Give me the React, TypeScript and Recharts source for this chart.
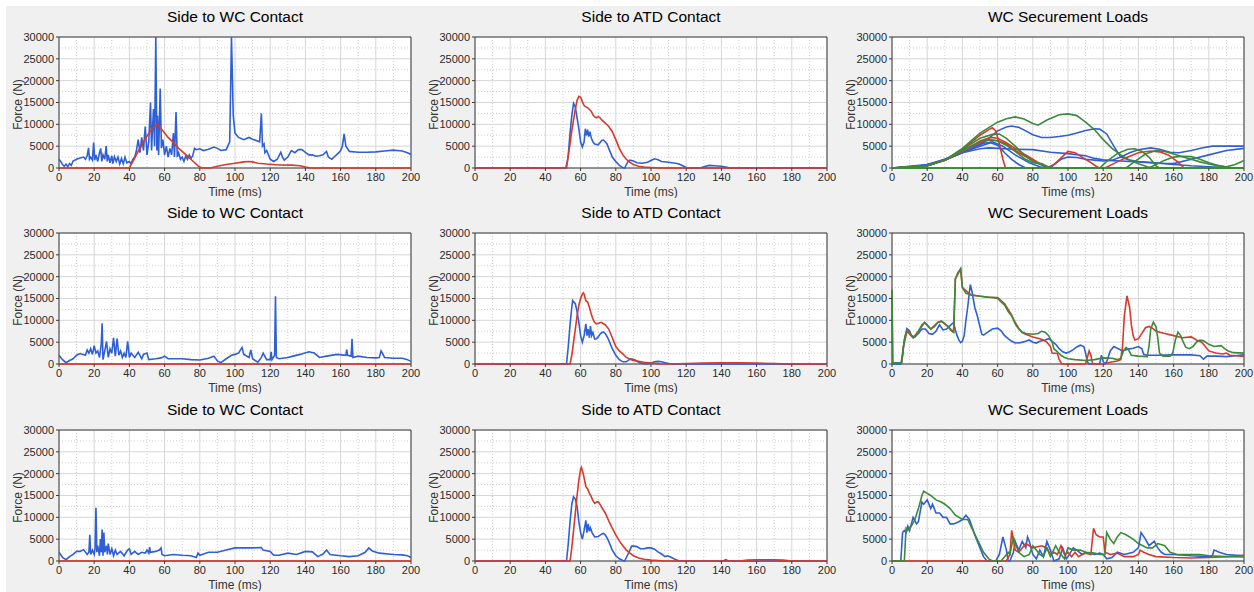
import React from 'react';
import { LineChart, Line, XAxis, YAxis, CartesianGrid } from 'recharts';

type P = [number, number][];

// ---------- Tick values ----------
const xTicks = [0, 20, 40, 60, 80, 100, 120, 140, 160, 180, 200];
const yTicks = [0, 5000, 10000, 15000, 20000, 25000, 30000];
const xMinor = [10, 30, 50, 70, 90, 110, 130, 150, 170, 190];
const yMinor = [2500, 7500, 12500, 17500, 22500, 27500];
const xEdges = [0, 200];
const yEdges = [0, 30000];

const titles = ['Side to WC Contact', 'Side to ATD Contact', 'WC Securement Loads'];

// ---------- Row 1 ----------
const r1WcBlue: P = [[0,2000],[1,1500],[2,800],[3,400],[4,900],[5,300],[6,1000],[7,600],[8,1600],[10,2000],[12,2300],[14,2500],[15,2000],[16,2800],[16.8,4600],[17.3,2000],[18,2500],[19,1800],[19.7,5800],[20.3,1800],[21,3000],[22,1500],[23,3500],[23.7,4500],[24.3,1500],[25,3000],[26,2000],[26.8,5000],[27.4,1500],[28,3000],[29,1200],[30,2800],[30.6,1000],[31.5,2600],[32.5,1500],[33.5,2500],[34.5,900],[35.5,2200],[36.5,1000],[37.5,2500],[38.5,1200],[40,1500],[41,1000],[42,2000],[43,2500],[44,4000],[45,6500],[46,3500],[47,7000],[48,4000],[49,9500],[50,3000],[51,6000],[52,15000],[52.6,4000],[53,8000],[53.7,13500],[54.3,5000],[55,30000],[55.6,4000],[56,12000],[56.6,3000],[57.5,18200],[58.2,4500],[59,6500],[60,3000],[61,5000],[62,2500],[63,4500],[64,3000],[65,8000],[65.6,2500],[66.5,12800],[67.2,2500],[68,3500],[69,2000],[70,2500],[71,1500],[72,2800],[73,2000],[74,3000],[75,2200],[76,2800],[77,4500],[78,4200],[80,4400],[82,4000],[85,4300],[88,4800],[90,4500],[92,4000],[95,4200],[97,6000],[98,30000],[99,12000],[100,8000],[102,7000],[105,6500],[108,7000],[110,6600],[112,6300],[114,6000],[115,12500],[115.6,5000],[116.5,5500],[117,3500],[118,4000],[119,3000],[120,2000],[122,1500],[124,2000],[126,3600],[127,2500],[128,1800],[130,2500],[132,4000],[134,3500],[136,4200],[138,4200],[140,3600],[142,3000],[144,3000],[146,2700],[148,2800],[150,3000],[152,3800],[153,2500],[155,2000],[157,2800],[159,3500],[160,4000],[161,5000],[162,7800],[163,5000],[165,3800],[170,3600],[175,3600],[180,3700],[185,3900],[190,4100],[195,3900],[198,3500],[200,3100]];
const r1WcRed: P = [[0,0],[40,0],[42,1500],[45,3800],[48,6000],[50,7300],[52,8500],[54,9500],[56,10000],[57,9500],[58,9000],[60,8000],[62,7000],[65,5800],[68,4500],[70,3800],[73,2700],[76,1600],[79,500],[81,0],[86,0],[90,400],[95,800],[100,1100],[105,1400],[108,1500],[110,1400],[113,1100],[118,900],[125,700],[132,650],[137,500],[140,200],[143,0],[200,0]];

const r1AtdBlue: P = [[0,0],[52,0],[53,3000],[54,8000],[55,12000],[56,14800],[57,14000],[58,11500],[59,9000],[60,6000],[61,4800],[62,6000],[62.7,9000],[63.3,7500],[64,8800],[64.6,7200],[65.3,8300],[66,7000],[67,6000],[68,5500],[70,5300],[71,5800],[72,6300],[73,6400],[74,6000],[75,5500],[76,4500],[77,3500],[78,2500],[80,1500],[82,600],[84,100],[85,0],[86,800],[87,1500],[88,1800],[90,1600],[92,1200],[95,1100],[98,1300],[100,1700],[102,2100],[104,1900],[106,1500],[110,1300],[114,1100],[116,900],[118,500],[120,100],[122,0],[128,0],[130,300],[133,600],[136,500],[140,400],[144,100],[146,0],[200,0]];
const r1AtdRed: P = [[0,0],[51.5,0],[52.5,1500],[54,5500],[55,8500],[56,11000],[57,13500],[58,15500],[59,16400],[60,16200],[61,15200],[62,14300],[63,14000],[64,13800],[65,13400],[66,13000],[67,12200],[68,11700],[69,11500],[70,11800],[71,11500],[72,11000],[74,10300],[76,9500],[78,8300],[80,6500],[82,4500],[84,3000],[86,2000],[88,1300],[90,800],[93,400],[96,200],[100,100],[105,0],[200,0]];

const r1SecBlue1: P = [[0,0],[10,100],[15,400],[20,800],[25,1300],[30,2000],[35,2800],[40,3600],[45,4300],[50,5200],[55,6800],[60,8500],[65,9400],[68,9600],[72,9300],[76,8500],[80,7600],[85,7000],[90,7000],[95,7200],[100,7500],[105,8000],[110,8600],[115,9000],[118,8900],[122,7800],[126,5000],[130,2500],[135,1800],[140,1500],[150,1200],[160,800],[170,500],[180,300],[190,100],[200,0]];
const r1SecBlue2: P = [[0,0],[15,300],[20,700],[30,1800],[40,3600],[50,5000],[56,5800],[60,5200],[64,3500],[68,2000],[72,800],[76,0],[200,0]];
const r1SecBlue3: P = [[0,0],[20,800],[30,2000],[40,3500],[50,4400],[55,4600],[60,4500],[70,4300],[80,4200],[90,3600],[100,3300],[110,2800],[115,2200],[120,1900],[125,1700],[130,1600],[140,1400],[150,1100],[160,1000],[170,2000],[180,3000],[190,4000],[200,4500]];
const r1SecBlue4: P = [[0,0],[20,700],[30,1800],[40,3500],[50,5500],[57,6000],[63,5000],[70,3000],[78,1200],[84,300],[88,0],[92,800],[96,2000],[100,2500],[105,2400],[110,2000],[115,1800],[120,1600],[125,1800],[130,2500],[135,3500],[140,4200],[147,4600],[152,4300],[158,3600],[163,3500],[170,4000],[176,4600],[182,5000],[190,5000],[200,5000]];
const r1SecRed1: P = [[0,0],[15,200],[20,500],[30,1800],[40,4200],[50,7500],[55,8800],[57,9200],[59,8500],[61,5500],[63,2000],[64.5,0],[200,0]];
const r1SecRed2: P = [[0,0],[20,500],[30,1800],[40,3800],[50,6200],[56,7000],[60,6800],[65,5800],[70,4500],[75,3200],[80,2000],[84,1000],[88,0],[90,0],[94,1500],[100,3800],[104,3500],[108,2500],[112,1500],[116,400],[118,0],[121,0],[126,1000],[132,2200],[140,3500],[147,3900],[152,3700],[157,3000],[162,1500],[166,0],[200,0]];
const r1SecRed3: P = [[0,0],[20,500],[30,1800],[40,3800],[50,5800],[55,6400],[60,6300],[65,5500],[70,4000],[75,2800],[80,1800],[85,800],[89,0],[200,0]];
const r1SecGreen1: P = [[0,0],[15,200],[20,500],[30,1800],[40,4500],[50,8000],[60,10500],[65,11300],[70,11700],[75,11200],[80,10200],[83,9800],[88,11000],[95,12200],[100,12400],[105,12000],[110,10500],[115,8800],[120,6500],[125,4500],[130,3000],[135,1800],[140,1000],[145,300],[148,0],[200,0]];
const r1SecGreen2: P = [[0,0],[20,500],[30,1800],[40,4200],[50,6800],[57,7700],[61,7800],[65,6800],[70,5000],[75,3000],[80,1500],[85,700],[90,0],[118,0],[122,1500],[128,3300],[134,4300],[138,4400],[142,3800],[146,2500],[150,500],[152,0],[200,0]];
const r1SecGreen3: P = [[0,0],[20,500],[30,1800],[40,4000],[50,6000],[55,6500],[60,6200],[65,5200],[70,3800],[75,2200],[80,1200],[85,1000],[88,400],[90,0],[200,0]];
const r1SecGreen4: P = [[0,0],[133,0],[138,1500],[144,3200],[150,4000],[155,3800],[160,3200],[165,2600],[170,2000],[175,1400],[180,900],[185,500],[190,300],[195,800],[200,1700]];
const r1SecGreen5: P = [[0,0],[146,0],[150,800],[155,1800],[160,2500],[165,2700],[170,2600],[175,2000],[180,1200],[185,600],[190,200],[195,0],[200,0]];

// ---------- Row 2 ----------
const r2WcBlue: P = [[0,2000],[2,1000],[4,300],[6,800],[8,1200],[10,2000],[12,2400],[15,2000],[16,3200],[17,2500],[18,3500],[19,2200],[20,4200],[21,2500],[22,3000],[23,1500],[24,4500],[24.5,9300],[25,1000],[26,3000],[27,5200],[28,1500],[29,3500],[30,2500],[31,6000],[32,1800],[33,5800],[34,2000],[35,3000],[36,1500],[37,2500],[38,1500],[39,5200],[40,1500],[41,2500],[43,1500],[45,2700],[47,1200],[48,2200],[50,2500],[51,1000],[55,1200],[58,1400],[60,1800],[62,1200],[70,1200],[75,1000],[80,900],[85,1300],[88,1800],[90,700],[92,300],[95,1200],[98,2000],[100,2200],[102,2500],[104,3800],[105,2200],[108,1500],[109,3200],[110,1200],[113,400],[115,1500],[116,2500],[118,1000],[120,1000],[120.5,2800],[121,1000],[122.5,2000],[123,15500],[123.5,1500],[125,1200],[130,1500],[133,1800],[137,2200],[142,2800],[145,2500],[148,1500],[152,1800],[158,2200],[163,2000],[163.5,3300],[164,2000],[166,1800],[166.5,5800],[167,1500],[170,1800],[175,1500],[180,1400],[182,1500],[183,3000],[185,1500],[190,1300],[195,1300],[198,1000],[200,600]];
const r2WcRed: P = [[0,0],[50,0],[100,0],[150,0],[200,0]];

const r2AtdBlue: P = [[0,0],[52,0],[53,4000],[54,9000],[55,13000],[55.5,14500],[57,13800],[58,12000],[59,9500],[60,6500],[61,5000],[62,6500],[63,9200],[63.6,6500],[64.3,8000],[65,6000],[65.6,8700],[66.3,6500],[67,7200],[68,5700],[69,5800],[70,6200],[71,6800],[72,7200],[73,7300],[74,7000],[75,6300],[76,5500],[77,4500],[78,3500],[80,2000],[82,1000],[84,500],[86,500],[88,1100],[89,1200],[91,900],[93,400],[95,100],[98,0],[100,200],[102,500],[104,600],[106,500],[108,300],[110,100],[112,0],[200,0]];
const r2AtdRed: P = [[0,0],[54,0],[55,2000],[56,5000],[57,8000],[58,11000],[59,13500],[60,15000],[61,16000],[61.5,16300],[62,16000],[63,14500],[64,14200],[65,13000],[66,11500],[67,10300],[68,9500],[69,9200],[70,9300],[71,9500],[72,9500],[73,9200],[74,9000],[75,8500],[76,8000],[77,7000],[78,6000],[79,5000],[80,4000],[82,3000],[84,2300],[86,1500],[88,1100],[90,800],[93,600],[96,400],[100,200],[105,50],[110,0],[120,100],[130,200],[140,250],[150,250],[160,200],[170,100],[180,0],[200,0]];

const r2SecBlue: P = [[0,0],[5,0],[6,2000],[7,5500],[8.5,8100],[10,7500],[11,6500],[13,6200],[15,7000],[17,8000],[19,8000],[21,7000],[23,6800],[25,7500],[27,9000],[29,7800],[31,8000],[33,8800],[35,9500],[36,7800],[37,6500],[38,5500],[39,4900],[40,5200],[41,6500],[42,10000],[43,13000],[44,16500],[44.5,18200],[45.5,16500],[47,13000],[48.5,11000],[50,8500],[51,6800],[52,6600],[54,7200],[57,8000],[60,8200],[62,7600],[64,6500],[66,5800],[68,5200],[70,4800],[73,4900],[76,5200],[78,5500],[80,5000],[82,4800],[84,5200],[87,5500],[89,5800],[91,5200],[93,4500],[95,3500],[97,2800],[99,2500],[101,2800],[103,3300],[105,3900],[107,4300],[109,4000],[110,2500],[111,500],[112,0],[118,0],[119,2000],[120,600],[121,0],[122,500],[124,3000],[126,4000],[128,3600],[131,3000],[134,3400],[137,3600],[140,4000],[142,3500],[143,2200],[145,2000],[150,2000],[160,2100],[170,2100],[175,1900],[177,1100],[179,1800],[185,1800],[190,1700],[195,1900],[200,2100]];
const r2SecRed: P = [[0,17000],[0.4,300],[5.5,300],[6.5,4000],[8.5,7500],[12,6000],[15,7500],[18.5,9500],[22,8000],[26,9500],[28,9800],[32,8500],[35,7300],[36,19500],[39,21800],[40,17500],[45,15800],[55,15300],[60,15200],[62,14500],[64,13800],[66,12500],[68,11200],[70,9500],[72,8200],[74,7200],[76,6800],[80,6200],[84,5800],[86,5500],[88,5000],[90,4000],[91,2500],[94,2400],[95,1000],[96.5,0],[110,0],[111,1500],[112,3000],[113,2000],[114,0],[120,0],[124,400],[128,700],[130,1000],[131,4000],[132,11000],[133.5,15600],[135,13000],[136,9000],[137,6500],[138,5500],[140,5800],[142,7000],[144,8300],[146,8600],[148,8200],[150,7500],[155,7000],[160,6500],[165,6000],[170,6200],[173,5500],[176,5000],[178,4000],[180,3000],[184,2500],[188,2300],[190,2500],[192,2000],[196,1900],[200,1700]];
const r2SecGreen: P = [[0,17000],[0.4,300],[5.5,300],[6.5,4000],[7.5,6500],[8.5,7500],[10,7500],[11,6500],[12,6000],[13,6200],[15,7500],[17,9000],[18.5,9500],[20,9000],[22,8000],[24,8500],[26,9500],[28,9800],[30,9300],[32,8500],[34,7500],[35,7300],[36,19500],[37.5,21000],[39,21800],[40,17500],[42,16200],[45,15800],[50,15500],[55,15300],[58,15200],[60,15000],[62,14200],[64,13500],[66,12000],[68,11000],[70,9200],[72,8000],[74,7300],[76,7000],[80,6800],[83,7000],[85,7500],[87,7300],[89,6500],[91,5000],[92,3500],[94,2800],[96,2000],[98,1500],[100,1200],[104,1000],[110,800],[115,1000],[120,1400],[125,1300],[128,1000],[130,1300],[131.5,3000],[133,3800],[134.5,3200],[136,2000],[140,1800],[145,1700],[146,4000],[147,8000],[148.5,9600],[150,8500],[151,6000],[152,2500],[154,1800],[158,1800],[159.5,2500],[161,5500],[162.5,7300],[164,6500],[165.5,5000],[167,3800],[169,3500],[171,4000],[173,5000],[175,5500],[177,5300],[180,4500],[183,4000],[187,4200],[189,3500],[191,3000],[194,2600],[200,2500]];

// ---------- Row 3 ----------
const r3WcBlue: P = [[0,2000],[2,800],[4,300],[6,1000],[8,1500],[10,2200],[12,2200],[14,2600],[16,1500],[17,2000],[17.5,6000],[18,1500],[19,2500],[20,1500],[20.5,3000],[21,12200],[21.5,2000],[22,3500],[23,1200],[23.5,5000],[24,2000],[24.5,7200],[25,1200],[25.5,6500],[26,2000],[27,3500],[27.5,1500],[28,4000],[29,1500],[30,2800],[31,1200],[32,2500],[33,1500],[35,2200],[37,1200],[39,2500],[40,2800],[41,1500],[43,2200],[45,1500],[47,2000],[49,1800],[50,2500],[51,1800],[51.5,3200],[52,2000],[55,2200],[57,2500],[58,3000],[58.5,1500],[60,1200],[65,1500],[70,1300],[75,1200],[78,800],[79,1800],[80,1300],[85,2000],[90,2000],[95,2500],[100,3000],[105,3000],[110,3000],[115,3100],[116,2500],[120,2200],[122,1300],[125,1300],[130,1800],[135,1500],[140,2200],[144,2100],[147,1000],[150,1600],[152,2500],[154,1500],[160,1200],[165,1000],[170,1200],[174,2000],[176,3000],[178,2300],[182,1800],[190,1500],[195,1400],[198,1200],[200,800]];
const r3WcRed: P = [[0,0],[50,0],[100,0],[150,0],[200,0]];

const r3AtdBlue: P = [[0,0],[52,0],[53,4000],[54,9000],[55,13000],[56,14700],[57,14200],[58,12500],[59,9000],[60,6500],[61,5000],[62,7000],[63,9300],[63.6,6500],[64.3,8500],[65,6800],[65.6,7600],[66.5,6500],[68,5500],[70,5600],[72,6200],[73,6300],[74,6000],[75,5300],[76,4500],[77,3500],[78,2500],[80,1200],[82,500],[84,100],[85,0],[86,800],[87.5,2000],[89,3400],[90,3400],[92,3300],[94,2800],[96,2800],[98,3000],[100,3000],[102,2700],[104,2100],[106,1600],[108,1000],[109.5,1200],[111,900],[113,500],[115,200],[116,0],[141,0],[142.5,300],[144,0],[200,0]];
const r3AtdRed: P = [[0,0],[54,0],[55,3000],[56,7000],[57,11000],[58,15000],[59,18500],[60,21000],[60.5,21400],[61.5,20000],[62.5,18000],[63,17000],[64,16500],[65,15500],[66,14800],[67,13800],[68,13200],[69,13500],[70,13600],[71,13000],[72,12300],[74,11000],[76,9200],[78,7500],[80,6000],[82,4600],[84,3500],[86,2500],[88,1800],[90,1200],[93,700],[96,400],[100,200],[104,100],[108,0],[150,0],[155,200],[160,300],[170,300],[175,200],[180,0],[200,0]];

const r3SecBlue: P = [[0,0],[5,0],[6,6500],[7,7000],[8,6500],[9,8000],[10,7000],[12,10000],[14,8500],[15,9000],[17,13500],[18,13000],[20,14000],[22,12000],[23,13000],[25,11000],[27,11000],[29,10000],[31,10000],[33,8500],[35,8500],[38,9000],[40,9500],[42,10500],[44,9500],[47,6000],[50,3000],[52,1000],[54,0],[59,0],[61,1500],[63,5500],[64,4000],[65,2500],[66,0],[67,0],[69,2000],[70,4500],[72,2500],[74,4500],[76,3000],[77,5500],[78,4500],[80,1500],[82,500],[84,2500],[86,1000],[88,4500],[90,2500],[92,0],[95,500],[97,3000],[99,500],[100,1000],[103,3000],[105,2500],[108,1500],[110,2000],[115,1500],[118,1800],[120,1500],[122,500],[125,800],[128,2000],[132,1500],[137,2000],[140,3000],[141.5,6500],[144,5000],[146,3500],[149,4500],[151,3000],[153,2000],[155,1500],[160,1500],[170,1200],[180,1000],[182,1200],[183,2500],[186,2000],[190,1500],[200,1200]];
const r3SecRed: P = [[0,0],[65,0],[67,1500],[68,7000],[70,2500],[72,2000],[74,3000],[76,4000],[78,3500],[80,3000],[85,3500],[88,3000],[90,1500],[92,2000],[94,1500],[96,3500],[98,1500],[100,2000],[102,1000],[104,2000],[106,1000],[108,1500],[110,1800],[113,1500],[114.5,7500],[116,6000],[118,5500],[120,5500],[121,2000],[124,1500],[128,1800],[132,1000],[137,1000],[140,1500],[141,2500],[143,2000],[146,1500],[150,1000],[160,800],[170,700],[180,800],[190,1000],[200,1300]];
const r3SecGreen: P = [[0,0],[7,0],[8,7500],[9,7000],[11,8000],[13,9500],[15,12000],[17,15000],[18,16000],[20,15500],[22,15000],[25,14000],[28,13500],[30,13000],[33,12000],[36,10500],[40,9500],[43,9500],[46,7000],[49,4500],[52,2000],[55,500],[57,0],[62,0],[64,1000],[66,2000],[67,1500],[69,5500],[70,4000],[72,2000],[75,1000],[78,1500],[80,3500],[82,2500],[84,1500],[86,1000],[88,3000],[90,1000],[93,3500],[95,2000],[98,500],[100,3000],[103,2500],[107,2500],[110,2000],[115,1800],[118,1500],[121,1500],[122,6500],[124,5000],[126,4000],[128,5500],[130,6500],[133,6000],[137,5000],[140,4000],[145,3000],[148,3000],[151,4000],[155,3500],[158,2000],[162,1500],[170,1500],[175,1500],[180,1200],[190,1000],[200,900]];

// ---------- Styling ----------
const BLUE = '#2f5fd6';
const RED = '#d9382a';
const GREEN = '#3b8a3b';
const FONT = '"Liberation Sans", Arial, sans-serif';
const FRAME = '#3a3a3a';

const colLeft = [59, 475, 892];
const rowTop = [37, 233, 430];
const PW = 352;
const PH = 131;
const YW = 60;
const MT = 37;
const XH = 30;
const MR = 10;

type S = { d: P; c: string };
const toPts = (arr: P) => arr.map(([t, f]) => ({ t, f }));

const panels: S[][][] = [
  [
    [{ d: r1WcBlue, c: BLUE }, { d: r1WcRed, c: RED }],
    [{ d: r1AtdBlue, c: BLUE }, { d: r1AtdRed, c: RED }],
    [
      { d: r1SecBlue1, c: BLUE }, { d: r1SecBlue2, c: BLUE }, { d: r1SecBlue3, c: BLUE }, { d: r1SecBlue4, c: BLUE },
      { d: r1SecRed1, c: RED }, { d: r1SecRed2, c: RED }, { d: r1SecRed3, c: RED },
      { d: r1SecGreen1, c: GREEN }, { d: r1SecGreen2, c: GREEN }, { d: r1SecGreen3, c: GREEN }, { d: r1SecGreen4, c: GREEN }, { d: r1SecGreen5, c: GREEN },
    ],
  ],
  [
    [{ d: r2WcBlue, c: BLUE }, { d: r2WcRed, c: RED }],
    [{ d: r2AtdBlue, c: BLUE }, { d: r2AtdRed, c: RED }],
    [{ d: r2SecBlue, c: BLUE }, { d: r2SecRed, c: RED }, { d: r2SecGreen, c: GREEN }],
  ],
  [
    [{ d: r3WcBlue, c: BLUE }, { d: r3WcRed, c: RED }],
    [{ d: r3AtdBlue, c: BLUE }, { d: r3AtdRed, c: RED }],
    [{ d: r3SecBlue, c: BLUE }, { d: r3SecRed, c: RED }, { d: r3SecGreen, c: GREEN }],
  ],
];

function YLabel(props: any) {
  const vb = props.viewBox || { x: 0, y: MT, width: YW, height: PH };
  const cx = vb.x + vb.width - 41;
  const cy = vb.y + vb.height / 2 + 2;
  return (
    <text x={cx} y={cy} transform={`rotate(-90, ${cx}, ${cy})`} textAnchor="middle" dominantBaseline="central"
      fontSize={12} fill="#333" fontFamily={FONT}>Force (N)</text>
  );
}

function Panel({ row, col }: { row: number; col: number }) {
  const series = panels[row][col];
  const left = colLeft[col] - YW;
  const top = rowTop[row] - MT;
  const tickStyle = { fontSize: 11, fill: '#2a2a2a', fontFamily: FONT };
  return (
    <div style={{ position: 'absolute', left, top, width: YW + PW + MR, height: MT + PH + XH }}>
      <div style={{ position: 'absolute', left: YW - 20, top: MT - 29, width: PW + 40, height: 18, lineHeight: '18px', textAlign: 'center', fontFamily: FONT, fontSize: 15.5, color: '#000', whiteSpace: 'nowrap' }}>
        {titles[col]}
      </div>
      <LineChart width={YW + PW + MR} height={MT + PH + XH} margin={{ top: MT, right: MR, bottom: 0, left: 0 }}>
        <CartesianGrid fill="#ffffff" stroke="#cfcfcf" strokeDasharray="1 2" horizontalValues={yMinor} verticalValues={xMinor} />
        <CartesianGrid stroke="#d6d6d6" horizontalValues={yTicks} verticalValues={xTicks} />
        <CartesianGrid stroke={FRAME} horizontalValues={yEdges} verticalValues={xEdges} />
        <XAxis dataKey="t" type="number" domain={[0, 200]} ticks={xTicks} interval={0}
          height={XH} tickSize={3} tickMargin={2} tick={tickStyle} tickLine={{ stroke: FRAME }} axisLine={false}
          label={{ value: 'Time (ms)', position: 'insideBottom', offset: 2, fontSize: 12, fill: '#333', fontFamily: FONT }} />
        <YAxis type="number" domain={[0, 30000]} ticks={yTicks} interval={0} width={YW}
          tickSize={3} tickMargin={2} tick={tickStyle} tickLine={{ stroke: FRAME }} axisLine={false}
          label={<YLabel />} />
        {series.map((s, i) => (
          <Line key={i} data={toPts(s.d)} dataKey="f" type="linear" stroke={s.c} strokeWidth={1.6}
            dot={false} activeDot={false} isAnimationActive={false} />
        ))}
      </LineChart>
    </div>
  );
}

export default function App() {
  const cells: React.ReactNode[] = [];
  for (let r = 0; r < 3; r++) for (let c = 0; c < 3; c++) cells.push(<Panel key={`${r}-${c}`} row={r} col={c} />);
  return (
    <div style={{ position: 'absolute', left: 0, top: 0, width: 1254, height: 592, background: '#ffffff', overflow: 'hidden' }}>
      <div style={{ position: 'absolute', left: 6, top: 6, width: 1248, height: 586, background: '#f0f0f0' }} />
      {cells}
    </div>
  );
}
